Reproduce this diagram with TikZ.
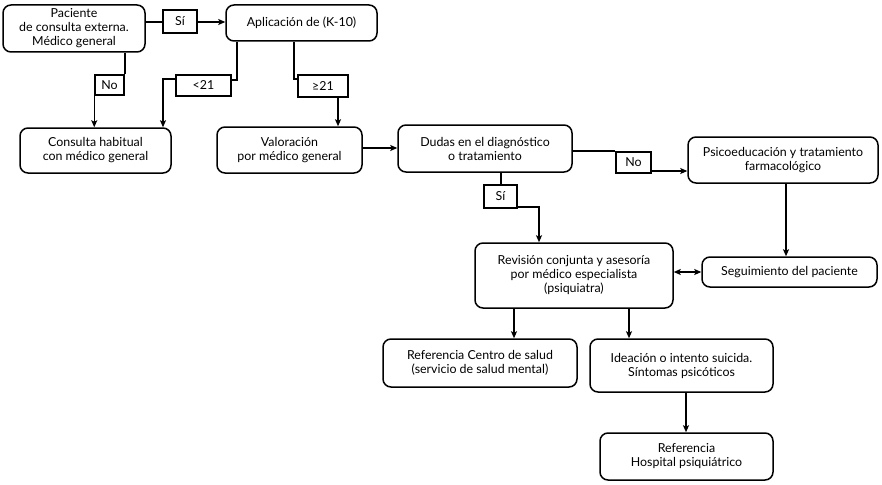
\documentclass[tikz,border=0pt]{standalone}
\usepackage{fontspec}
\setmainfont{Lato}
\usetikzlibrary{arrows.meta}
\begin{document}
\begin{tikzpicture}[x=1pt,y=-1pt,
  box/.style={draw,line width=1.5pt,rounded corners=8pt,align=center,inner sep=0pt,font=\fontsize{12.4}{14}\selectfont},
  lbl/.style={draw,line width=1.5pt,align=center,inner sep=0pt,font=\fontsize{12.4}{14}\selectfont},
  conn/.style={line width=1.5pt},
  arr/.style={line width=1.5pt,-{Stealth[length=7pt,width=6pt,inset=1.5pt]}},
  darr/.style={line width=1.5pt,{Stealth[length=7pt,width=6pt,inset=1.5pt]}-{Stealth[length=7pt,width=6pt,inset=1.5pt]}}]
\useasboundingbox (0,0) rectangle (882,484);
\node[box,minimum width=142pt,minimum height=47pt] (p1) at (74,28.5) {Paciente\\de consulta externa.\\Médico general};
\node[lbl,minimum width=34pt,minimum height=23pt] (si1) at (180,21.5) {Sí};
\node[box,minimum width=151pt,minimum height=36pt] (k10) at (301.5,23) {Aplicación de (K-10)};
\node[lbl,minimum width=29pt,minimum height=20pt] (no1) at (109.5,85) {No};
\node[lbl,minimum width=55pt,minimum height=21pt] (lt21) at (203.5,85.5) {<21};
\node[lbl,minimum width=50pt,minimum height=22pt] (ge21) at (323,86) {≥21};
\node[box,minimum width=151pt,minimum height=45pt] (cons) at (95.5,150.5) {Consulta habitual\\con médico general};
\node[box,minimum width=145pt,minimum height=46pt] (val) at (289.5,150) {Valoración\\por médico general};
\node[box,minimum width=174pt,minimum height=47pt] (dud) at (485,148.5) {Dudas en el diagnóstico\\o tratamiento};
\node[lbl,minimum width=35pt,minimum height=21pt] (no2) at (633.5,162.5) {No};
\node[box,minimum width=190pt,minimum height=46pt] (psi) at (783,160) {Psicoeducación y tratamiento\\farmacológico};
\node[lbl,minimum width=33pt,minimum height=23pt] (si2) at (500.5,196.5) {Sí};
\node[box,minimum width=198pt,minimum height=65pt] (rev) at (574,275.5) {Revisión conjunta y asesoría\\por médico especialista\\(psiquiatra)};
\node[box,minimum width=175pt,minimum height=30pt] (seg) at (789.5,272) {Seguimiento del paciente};
\node[box,minimum width=194pt,minimum height=48pt] (ref1) at (480,363) {Referencia Centro de salud\\(servicio de salud mental)};
\node[box,minimum width=183pt,minimum height=53pt] (ide) at (681.5,365.5) {Ideación o intento suicida.\\Síntomas psicóticos};
\node[box,minimum width=173pt,minimum height=47pt] (hos) at (686.5,456.5) {Referencia\\Hospital psiquiátrico};
% connectors
\draw[conn] (p1.east |- 0,22) -- (si1.west |- 0,22);
\draw[arr] (si1.east |- 0,22) -- (k10.west |- 0,22);
\draw[conn] (p1.south -| no1.north east) -- (no1.north east);
\draw[arr] (no1.south west) -- (no1.south west |- cons.north);
\coordinate (k1) at (237,80);
\draw[conn] (k10.south -| k1) -- (k1) -- (lt21.east |- k1);
\coordinate (k2) at (163,79);
\draw[arr] (lt21.west |- k2) -- (k2) -- (k2 |- cons.north);
\coordinate (k3) at (294,79);
\draw[conn] (k10.south -| k3) -- (k3) -- (ge21.west |- k3);
\coordinate (k4) at (338,0);
\draw[arr] (ge21.south -| k4) -- (val.north -| k4);
\draw[arr] (val.east |- 0,148) -- (dud.west |- 0,148);
\draw[conn] (dud.east |- 0,151) -- (no2.west |- 0,151);
\draw[arr] (no2.east |- 0,171) -- (psi.west |- 0,171);
\coordinate (k5) at (501,0);
\draw[conn] (dud.south -| k5) -- (si2.north -| k5);
\coordinate (k6) at (539,207);
\draw[arr] (si2.east |- k6) -- (k6) -- (k6 |- rev.north);
\coordinate (k7) at (786,0);
\draw[arr] (psi.south -| k7) -- (seg.north -| k7);
\draw[darr] (rev.east |- 0,272) -- (seg.west |- 0,272);
\coordinate (k8) at (514,0);
\draw[arr] (rev.south -| k8) -- (ref1.north -| k8);
\coordinate (k9) at (629,0);
\draw[arr] (rev.south -| k9) -- (ide.north -| k9);
\coordinate (k10c) at (686,0);
\draw[arr] (ide.south -| k10c) -- (hos.north -| k10c);
\end{tikzpicture}
\end{document}
